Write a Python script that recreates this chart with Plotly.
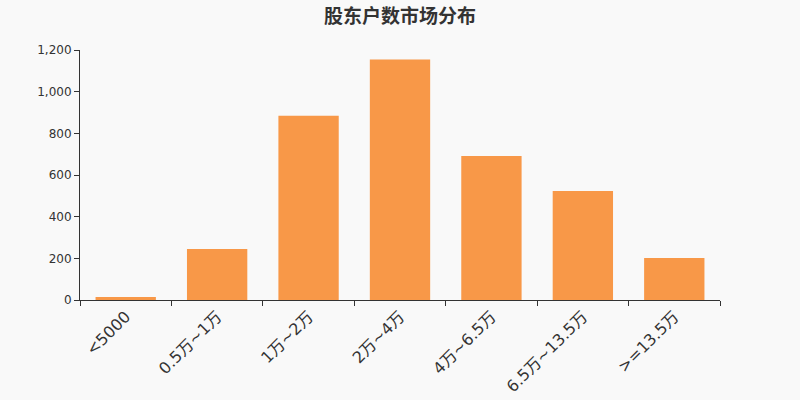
import plotly.graph_objects as go

categories = ["<5000", "0.5万~1万", "1万~2万", "2万~4万", "4万~6.5万", "6.5万~13.5万", ">=13.5万"]
holders = [15, 245, 884, 1155, 691, 523, 202]

BAR_COLOR = "#f89848"
TEXT_COLOR = "#333333"
BG_COLOR = "#f9f9f9"
FONT = "DejaVu Sans, Noto Sans CJK SC, sans-serif"

fig = go.Figure()
fig.add_trace(
    go.Bar(
        x=categories,
        y=holders,
        marker=dict(color=BAR_COLOR, line=dict(width=0)),
        hovertemplate="%{x}: %{y}<extra></extra>",
    )
)

fig.update_layout(
    width=800,
    height=400,
    autosize=False,
    title=dict(
        text="股东户数市场分布",
        x=0.5,
        xanchor="center",
        y=0.96,
        yanchor="middle",
        font=dict(size=19, color=TEXT_COLOR, family="Noto Sans CJK SC, sans-serif", weight=600),
    ),
    paper_bgcolor=BG_COLOR,
    plot_bgcolor=BG_COLOR,
    showlegend=False,
    bargap=0.34,
    margin={"l": 80, "r": 80, "t": 50, "b": 100},
    font=dict(family=FONT, color=TEXT_COLOR),
)

fig.update_xaxes(
    automargin=False,
    showline=True,
    linecolor=TEXT_COLOR,
    linewidth=1,
    ticks="outside",
    tickson="boundaries",
    ticklen=5,
    tickcolor=TEXT_COLOR,
    tickangle=-45,
    tickfont=dict(size=16, color=TEXT_COLOR),
    showgrid=False,
)
fig.update_yaxes(
    automargin=False,
    range=[0, 1200],
    dtick=200,
    tickformat=",",
    showline=True,
    linecolor=TEXT_COLOR,
    linewidth=1,
    ticks="outside",
    ticklen=5,
    tickcolor=TEXT_COLOR,
    tickfont=dict(size=12, color=TEXT_COLOR),
    showgrid=False,
    zeroline=False,
)

# page has a default body margin; drop it so the chart fills the window
fig.write_html(
    "out.html",
    config={"displayModeBar": False},
    post_script="document.body.style.margin='0';document.body.style.background='%s';" % BG_COLOR,
)
